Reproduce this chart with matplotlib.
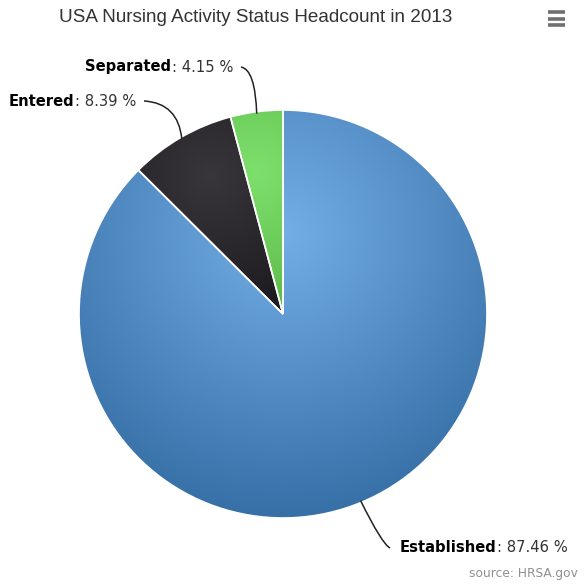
import numpy as np
import matplotlib
matplotlib.use("Agg")
from matplotlib import pyplot as plt
from matplotlib.colors import LinearSegmentedColormap, to_rgb
from matplotlib.path import Path
from matplotlib.patches import PathPatch

# data
labels = ["Established", "Entered", "Separated"]
values = [87.46, 8.39, 4.15]
colors = ["#7cb5ec", "#434348", "#90ed7d"]

title = "USA Nursing Activity Status Headcount in 2013"
source = "source: HRSA.gov"

W, H = 586, 584
fig = plt.figure(figsize=(W / 100, H / 100), dpi=100)
ax = fig.add_axes([0, 0, 1, 1])
ax.set_xlim(0, W)
ax.set_ylim(0, H)
ax.axis("off")

cx, cy, R = 283, H - 314, 204

wedges, _ = ax.pie(values, startangle=90, counterclock=False, center=(cx, cy),
                   radius=R, colors=colors,
                   wedgeprops=dict(edgecolor="white", linewidth=1.2))
ax.set_xlim(0, W)
ax.set_ylim(0, H)
ax.set_aspect("auto")


def darker(c, k=0.3):
    # highcharts brighten(-k): subtract k*255 from each channel
    r, g, b = to_rgb(c)
    return (max(r - k, 0), max(g - k, 0), max(b - k, 0))


edge_cols = [darker(colors[0], 0.27), "#1e1c20", darker(colors[2], 0.2)]
mid_cols = ["#74aee6", "#39363b", "#7ee06c"]

# radial gradient fill per slice (highcharts style)
for w, c0, c1 in zip(wedges, mid_cols, edge_cols):
    bb = w.get_path().get_extents(w.get_patch_transform())
    x0, y0, x1, y1 = bb.x0, bb.y0, bb.x1, bb.y1
    gx = x0 + 0.5 * (x1 - x0)
    gy = y1 - 0.3 * (y1 - y0)
    gr = 0.7 * max(x1 - x0, y1 - y0)
    xs = np.linspace(x0, x1, 200)
    ys = np.linspace(y0, y1, 200)
    X, Y = np.meshgrid(xs, ys)
    D = np.clip(np.hypot(X - gx, Y - gy) / gr, 0, 1)
    cmap = LinearSegmentedColormap.from_list("g", [c0, c1])
    im = ax.imshow(D, cmap=cmap, vmin=0, vmax=1, extent=(x0, x1, y0, y1),
                   origin="lower", interpolation="bilinear", zorder=1)
    im.set_clip_path(w)
    w.set_facecolor("none")
    w.set_zorder(2)

# labels with connectors
theta = 90.0
mids = []
for v in values:
    span = v / sum(values) * 360
    mids.append(np.deg2rad(theta - span / 2))
    theta -= span

label_pos = {  # anchor side, x, y (pixels from top)
    "Established": ("left", 400, 548),
    "Entered": ("right", 136, 101),
    "Separated": ("right", 233, 67),
}

fs = 10.6
fig.canvas.draw()
renderer = fig.canvas.get_renderer()
for lab, v, m in zip(labels, values, mids):
    ha, tx, ty = label_pos[lab]
    ty = H - ty
    ex, ey = cx + (R - 2) * np.cos(m), cy + (R - 2) * np.sin(m)
    if ha == "left":
        t1 = ax.text(tx, ty, lab, fontsize=fs, fontweight="bold", color="#000000",
                     ha="left", va="center", family="DejaVu Sans")
        bb = t1.get_window_extent(renderer)
        ax.text(bb.x1, ty, ": %.2f %%" % v, fontsize=fs, color="#333333",
                ha="left", va="center", family="DejaVu Sans")
        sx = tx - 10
        verts = [(ex, ey), (sx - 8, ty + 4), (sx, ty)]
    else:
        t2 = ax.text(tx, ty, ": %.2f %%" % v, fontsize=fs, color="#333333",
                     ha="right", va="center", family="DejaVu Sans")
        bb = t2.get_window_extent(renderer)
        ax.text(bb.x0, ty, lab, fontsize=fs, fontweight="bold", color="#000000",
                ha="right", va="center", family="DejaVu Sans")
        sx = tx + 8
        verts = [(sx, ty), (ex - (ex - sx) * 0.1, ty + (ey - ty) * 0.05), (ex, ey)]
    p = Path(verts, [Path.MOVETO, Path.CURVE3, Path.CURVE3])
    ax.add_patch(PathPatch(p, facecolor="none", edgecolor="#222222", lw=1.1, zorder=3))

# title, menu icon, credits
ax.text(256, H - 17, title, fontsize=13.6, color="#333333", ha="center", va="center",
        family="Liberation Sans")
for yy in (12, 18.5, 25):
    ax.plot([548, 565], [H - yy, H - yy], color="#707070", lw=2.6, solid_capstyle="butt")
ax.text(578, H - 574, source, fontsize=8.8, color="#909090", ha="right", va="center",
        family="DejaVu Sans")

fig.savefig("out.png", dpi=100)
